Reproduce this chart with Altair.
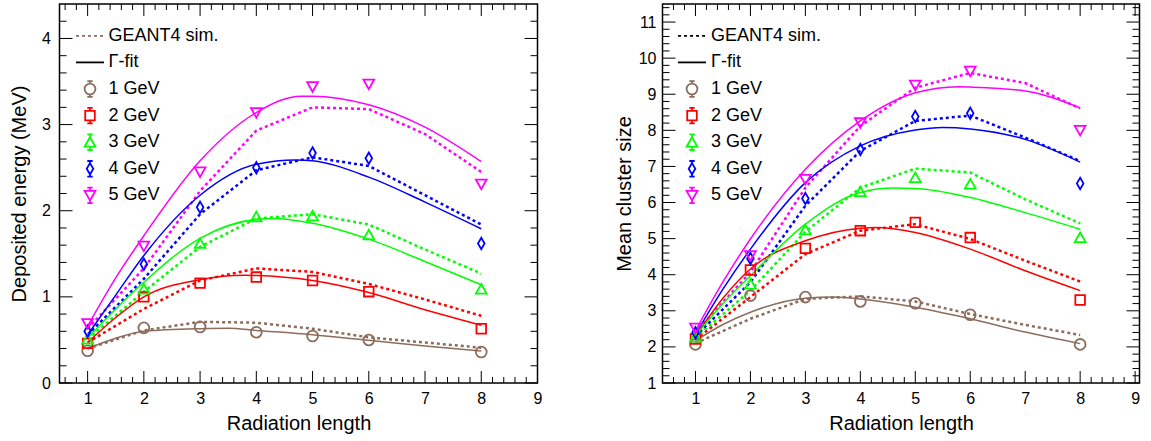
import altair as alt
import pandas as pd

FONT = "Liberation Sans"

energies = ["1 GeV", "2 GeV", "3 GeV", "4 GeV", "5 GeV"]
colors = ["#8c6c5c", "#ff0000", "#00ff00", "#0000ff", "#ff00ff"]

x_points = [1, 2, 3, 4, 5, 6, 8]
x_sim = [1, 2, 3, 4, 5, 6, 7, 8]

# ---------------- left panel: deposited energy (MeV) ----------------
pts_E = {
    "1 GeV": [0.375, 0.64, 0.65, 0.59, 0.545, 0.50, 0.36],
    "2 GeV": [0.46, 1.00, 1.16, 1.23, 1.19, 1.06, 0.63],
    "3 GeV": [0.51, 1.09, 1.62, 1.93, 1.94, 1.72, 1.09],
    "4 GeV": [0.60, 1.38, 2.04, 2.50, 2.67, 2.61, 1.62],
    "5 GeV": [0.69, 1.59, 2.45, 3.14, 3.44, 3.47, 2.31],
}
sim_E = {
    "1 GeV": [0.40, 0.61, 0.71, 0.70, 0.63, 0.53, 0.47, 0.41],
    "2 GeV": [0.47, 0.86, 1.19, 1.33, 1.29, 1.15, 0.97, 0.78],
    "3 GeV": [0.51, 1.06, 1.58, 1.91, 1.96, 1.84, 1.55, 1.27],
    "4 GeV": [0.56, 1.21, 1.96, 2.47, 2.62, 2.52, 2.18, 1.84],
    "5 GeV": [0.63, 1.33, 2.23, 2.93, 3.20, 3.18, 2.89, 2.45],
}
fitx_E = {
    "1 GeV": [1, 1.5, 2, 3, 3.5, 4, 5, 6, 7, 8],
    "2 GeV": [1, 1.5, 2, 3, 3.8, 4, 5, 6, 7, 8],
    "3 GeV": [1, 1.5, 2, 3, 4, 4.3, 5, 6, 7, 8],
    "4 GeV": [1, 1.5, 2, 3, 4, 4.7, 5, 6, 7, 8],
    "5 GeV": [1, 1.5, 2, 3, 4, 4.8, 5, 6, 7, 8],
}
fity_E = {
    "1 GeV": [0.40, 0.52, 0.60, 0.63, 0.635, 0.61, 0.56, 0.495, 0.43, 0.37],
    "2 GeV": [0.47, 0.76, 1.00, 1.20, 1.25, 1.248, 1.19, 1.05, 0.85, 0.67],
    "3 GeV": [0.52, 0.86, 1.17, 1.68, 1.90, 1.91, 1.855, 1.67, 1.41, 1.14],
    "4 GeV": [0.56, 1.02, 1.48, 2.18, 2.54, 2.59, 2.58, 2.39, 2.10, 1.79],
    "5 GeV": [0.66, 1.22, 1.71, 2.58, 3.14, 3.33, 3.33, 3.23, 2.97, 2.57],
}

# ---------------- right panel: mean cluster size ----------------
pts_C = {
    "1 GeV": [2.07, 3.42, 3.38, 3.26, 3.21, 2.89, 2.07],
    "2 GeV": [2.22, 4.13, 4.73, 5.22, 5.45, 5.03, 3.30],
    "3 GeV": [2.27, 3.74, 5.24, 6.30, 6.69, 6.51, 5.03],
    "4 GeV": [2.39, 4.45, 6.11, 7.47, 8.38, 8.47, 6.53],
    "5 GeV": [2.52, 4.53, 6.64, 8.21, 9.25, 9.64, 8.00],
}
sim_C = {
    "1 GeV": [2.10, 2.78, 3.33, 3.40, 3.26, 2.91, 2.61, 2.33],
    "2 GeV": [2.20, 3.38, 4.57, 5.22, 5.40, 4.99, 4.39, 3.81],
    "3 GeV": [2.25, 3.56, 5.19, 6.41, 6.94, 6.83, 6.09, 5.42],
    "4 GeV": [2.30, 3.79, 5.91, 7.43, 8.26, 8.41, 7.80, 7.15],
    "5 GeV": [2.40, 4.07, 6.41, 8.12, 9.18, 9.59, 9.31, 8.61],
}
fitx_C = {
    "1 GeV": [1, 1.5, 2, 3, 3.5, 4, 5, 6, 7, 8],
    "2 GeV": [1, 1.5, 2, 3, 4, 4.3, 5, 6, 7, 8],
    "3 GeV": [1, 1.5, 2, 3, 4, 4.6, 5, 6, 7, 8],
    "4 GeV": [1, 1.5, 2, 3, 4, 5, 5.5, 6, 7, 8],
    "5 GeV": [1, 1.5, 2, 3, 4, 5, 5.8, 6, 7, 8],
}
fity_C = {
    "1 GeV": [2.17, 2.62, 2.96, 3.35, 3.38, 3.33, 3.10, 2.78, 2.41, 2.09],
    "2 GeV": [2.30, 3.35, 4.16, 4.94, 5.29, 5.31, 5.17, 4.71, 4.11, 3.56],
    "3 GeV": [2.30, 3.20, 3.97, 5.40, 6.28, 6.40, 6.39, 6.14, 5.72, 5.26],
    "4 GeV": [2.35, 3.60, 4.71, 6.55, 7.57, 8.01, 8.08, 8.04, 7.75, 7.12],
    "5 GeV": [2.45, 3.80, 4.99, 6.92, 8.26, 9.04, 9.21, 9.20, 9.09, 8.62],
}

# axis ticks
x_major = [1, 2, 3, 4, 5, 6, 7, 8, 9]
yE_major = [0, 1, 2, 3, 4]
yC_major = [1, 2, 3, 4, 5, 6, 7, 8, 9, 10, 11]

legend_labels = ["GEANT4 sim.", "\u0393-fit"] + energies

# ---------------- marker shapes (SVG paths) ----------------
EXT = "M-2.33,0M2.33,0M0,-1.5M0,1.5"
marker_paths = [
    "M0.9,0A0.9,0.9,0,1,1,-0.9,0A0.9,0.9,0,1,1,0.9,0Z",
    "M-0.8,-0.8H0.8V0.8H-0.8Z",
    "M0,-0.85L0.9,0.75H-0.9Z",
    "M0,-0.95L0.55,0L0,0.95L-0.55,0Z",
    "M0,0.85L0.9,-0.75H-0.9Z",
]
bar_ext = [(0.9, 0.9), (0.8, 0.8), (0.85, 0.75), (0.95, 0.95), (0.75, 0.85)]
legend_marker_paths = []
for p, (top, bot) in zip(marker_paths, bar_ext):
    legend_marker_paths.append(
        p + f"M0,-{top}V-1.3M-0.45,-1.3H0.45M0,{bot}V1.3M-0.45,1.3H0.45" + EXT
    )
dash_path = "M-2.33,0H-1.83M-1.33,0H-0.83M-0.33,0H0.17M0.67,0H1.17M1.67,0H2.17" + EXT
solid_path = "M-2.33,0H2.33" + EXT
legend_paths = [dash_path, solid_path] + legend_marker_paths


def long_df(xs_by, ys_by):
    rows = []
    for e in energies:
        xs = xs_by[e] if isinstance(xs_by, dict) else xs_by
        for xv, yv in zip(xs, ys_by[e]):
            rows.append({"x": xv, "y": yv, "energy": e})
    return pd.DataFrame(rows)


def minor_ticks(lo, hi, step, majors):
    n = int(round((hi - lo) / step))
    vals = [round(lo + i * step, 4) for i in range(n + 1)]
    return [v for v in vals if all(abs(v - m) > 1e-6 for m in majors)]


def panel(pts, sim, fitx, fity, xdom, ydom, y_major, ytitle, W, H,
          sim_color, lx, ly, loff, ylab_pad, ytitle_pad):
    x_minor = [v for v in minor_ticks(0.2, 9.0, 0.2, x_major) if xdom[0] < v < xdom[1]]
    y_minor = [v for v in minor_ticks(ydom[0], ydom[1], 0.2, y_major) if ydom[0] < v < ydom[1]]

    xs = alt.Scale(domain=xdom, nice=False, zero=False)
    ys = alt.Scale(domain=ydom, nice=False, zero=False)
    xax = alt.Axis(values=x_major, title="Radiation length", labelPadding=7,
                   titlePadding=7)
    yax = alt.Axis(values=y_major, title=ytitle, labelPadding=ylab_pad,
                   titlePadding=ytitle_pad)
    X = alt.X("x:Q", scale=xs, axis=xax)
    Y = alt.Y("y:Q", scale=ys, axis=yax)
    cscale = alt.Scale(domain=energies, range=colors)
    col = alt.Color("energy:N", scale=cscale, legend=None)

    sim_layer = alt.Chart(long_df(x_sim, sim)).mark_line(
        strokeDash=[3, 3], strokeWidth=2.5).encode(x=X, y=Y, color=col)
    fit_layer = alt.Chart(long_df(fitx, fity)).mark_line(
        strokeWidth=1.5, interpolate="monotone").encode(x=X, y=Y, color=col)
    pt_layer = alt.Chart(long_df(x_points, pts)).mark_point(
        filled=False, size=144, strokeWidth=1.8, opacity=1).encode(
        x=X, y=Y, color=col,
        shape=alt.Shape("energy:N", scale=alt.Scale(domain=energies, range=marker_paths),
                        legend=None))

    dxM = pd.DataFrame({"x": x_major})
    dxm = pd.DataFrame({"x": x_minor})
    dyM = pd.DataFrame({"y": y_major})
    dym = pd.DataFrame({"y": y_minor})
    tick_layers = []
    for d, L in ((dxM, 12), (dxm, 6)):
        tick_layers.append(alt.Chart(d).mark_rule(color="black", strokeWidth=1).encode(
            x=X, y=alt.value(H), y2=alt.value(H - L)))
        tick_layers.append(alt.Chart(d).mark_rule(color="black", strokeWidth=1).encode(
            x=X, y=alt.value(0), y2=alt.value(L)))
    for d, L in ((dyM, 13), (dym, 7)):
        tick_layers.append(alt.Chart(d).mark_rule(color="black", strokeWidth=1).encode(
            y=Y, x=alt.value(0), x2=alt.value(L)))
        tick_layers.append(alt.Chart(d).mark_rule(color="black", strokeWidth=1).encode(
            y=Y, x=alt.value(W), x2=alt.value(W - L)))

    leg = alt.Legend(orient="none", legendX=lx, legendY=ly, title=None,
                     labelFont=FONT, labelFontSize=18, labelColor="black",
                     symbolSize=144, symbolStrokeWidth=1.8, symbolOffset=0,
                     labelOffset=loff, rowPadding=0.6, padding=0,
                     symbolOpacity=1, labelLimit=400)
    leg_df = pd.DataFrame({"label": legend_labels})
    leg_layer = alt.Chart(leg_df).mark_point(filled=False, opacity=0).encode(
        color=alt.Color("label:N", scale=alt.Scale(domain=legend_labels,
                        range=[sim_color, "black"] + colors), legend=leg),
        shape=alt.Shape("label:N", scale=alt.Scale(domain=legend_labels,
                        range=legend_paths), legend=leg),
    )
    return alt.layer(sim_layer, fit_layer, pt_layer, *tick_layers, leg_layer).resolve_scale(
        color="independent", shape="independent").properties(width=W, height=H)


left = panel(pts_E, sim_E, fitx_E, fity_E, [0.5, 9.0], [0, 4.4], yE_major,
             "Deposited energy (MeV)", 478, 379, colors[0], 21.5, 22.8, 9.5, 9, 12)
right = panel(pts_C, sim_C, fitx_C, fity_C, [0.4, 9.08], [1, 11.5], yC_major,
              "Mean cluster size", 477, 379, "black", 20.5, 22.8, 10, 6.5, 4)

chart = alt.hconcat(left, right, spacing=69).properties(
    padding={"left": 8.5, "top": 2, "right": 0, "bottom": 0},
    background="white",
).configure_view(stroke="black", strokeWidth=1.5).configure_axis(
    labelFont=FONT, labelFontSize=16, labelColor="black",
    titleFont=FONT, titleFontSize=20, titleFontWeight="normal", titleColor="black",
    ticks=False, domain=False, grid=False, labelFlush=False, labelOverlap=False
)

chart.save("out.html", embed_options={"renderer": "svg", "actions": False})
